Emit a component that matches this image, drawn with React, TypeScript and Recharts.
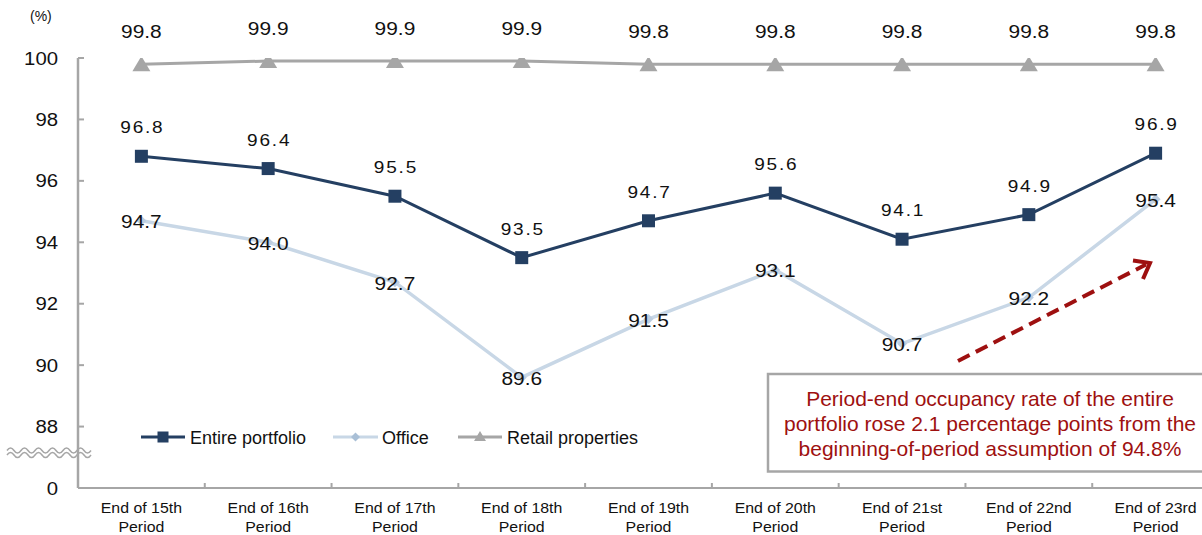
import { LabelList, Line, LineChart, XAxis, YAxis } from "recharts";

const periods = [
  "End of 15th Period",
  "End of 16th Period",
  "End of 17th Period",
  "End of 18th Period",
  "End of 19th Period",
  "End of 20th Period",
  "End of 21st Period",
  "End of 22nd Period",
  "End of 23rd Period"
];
const entire = [96.8, 96.4, 95.5, 93.5, 94.7, 95.6, 94.1, 94.9, 96.9];
const office = [94.7, 94.0, 92.7, 89.6, 91.5, 93.1, 90.7, 92.2, 95.4];
const retail = [99.8, 99.9, 99.9, 99.9, 99.8, 99.8, 99.8, 99.8, 99.8];
// 86 sits under the axis break and is labelled as 0
const yTicks = [86, 88, 90, 92, 94, 96, 98, 100];

const data = periods.map((period, i) => ({
  period,
  entire: entire[i],
  office: office[i],
  retail: retail[i]
}));

const NAVY = "#243f62";
const LIGHT = "#c8d7e6";
const GREY = "#a6a6a6";
const RED = "#9e1010";
const FONT = "'Liberation Sans', Arial, sans-serif";

// numbers in the plot use a slightly wide face
function WideText({ x, y, size, sx = 1.13, spacing = 0, anchor = "middle", children }: any) {
  return (
    <text
      transform={`translate(${x},${y}) scale(${sx},1)`}
      textAnchor={anchor}
      fontSize={size}
      letterSpacing={spacing}
      fill="#111"
      fontFamily={FONT}
    >
      {children}
    </text>
  );
}

function YTick({ x, y, payload }: any) {
  const v = payload.value;
  return (
    <g>
      {v !== 86 && <line x1={x + 20} x2={x + 26} y1={y} y2={y} stroke={GREY} strokeWidth={2} />}
      <WideText x={x} y={y + 6.5} size={18} anchor="end">
        {v === 86 ? "0" : v}
      </WideText>
    </g>
  );
}

function XTick({ x, y, payload }: any) {
  const [first] = String(payload.value).split(" Period");
  const left = x - (payload.offset ?? 0);
  return (
    <g>
      <line x1={left} x2={left} y1={y} y2={y - 5} stroke={GREY} strokeWidth={2} />
      <WideText x={x} y={y + 25} size={15} sx={1.06}>
        {first}
      </WideText>
      <WideText x={x} y={y + 43.5} size={15} sx={1.06}>
        Period
      </WideText>
    </g>
  );
}

function SquareDot({ cx, cy, index }: any) {
  return <rect key={`sq-${index}`} x={cx - 6.5} y={cy - 6.5} width={13} height={13} fill={NAVY} />;
}

function DiamondDot({ cx, cy, index }: any) {
  return (
    <path key={`dm-${index}`} d={`M${cx},${cy - 5}L${cx + 5},${cy}L${cx},${cy + 5}L${cx - 5},${cy}Z`} fill="#bccde0" />
  );
}

function TriangleDot({ cx, cy, index }: any) {
  return (
    <path key={`tr-${index}`} d={`M${cx},${cy - 8}L${cx + 9},${cy + 7}L${cx - 9},${cy + 7}Z`} fill={GREY} />
  );
}

function EntireLabel({ x, y, value }: any) {
  return (
    <WideText x={x + 1} y={y - 23} size={17} sx={1.12} spacing={1.6}>
      {Number(value).toFixed(1)}
    </WideText>
  );
}

function OfficeLabel({ x, y, value }: any) {
  return (
    <WideText x={x} y={y + 7.5} size={18.5}>
      {Number(value).toFixed(1)}
    </WideText>
  );
}

function RetailLabel({ x, y, value }: any) {
  return (
    <WideText x={x} y={y - 26} size={18.5}>
      {Number(value).toFixed(1)}
    </WideText>
  );
}

// double wavy line marking the broken value axis
function wave(y0: number) {
  let d = `M7,${y0}`;
  for (let x = 7; x < 90; x += 7) {
    const up = ((x - 7) / 7) % 2 === 0 ? -5 : 5;
    d += ` Q${x + 3.5},${y0 + up} ${x + 7},${y0}`;
  }
  return d;
}

function Overlay() {
  return (
    <svg width={1219} height={535} style={{ position: "absolute", left: 0, top: 0, pointerEvents: "none" }}>
      <text x={30} y={21} fontSize={14} fill="#111" fontFamily={FONT}>(%)</text>

      <path d={wave(450.5)} fill="none" stroke={GREY} strokeWidth={1.5} />
      <path d={wave(455)} fill="none" stroke={GREY} strokeWidth={1.5} />

      {/* legend */}
      <g fontFamily={FONT} fontSize={18} fill="#111">
        <line x1={141} x2={185} y1={437} y2={437} stroke={NAVY} strokeWidth={3} />
        <rect x={157.5} y={431.5} width={11} height={11} fill={NAVY} />
        <text x={190} y={443.5}>Entire portfolio</text>
        <line x1={333} x2={378} y1={437} y2={437} stroke={LIGHT} strokeWidth={3} />
        <path d="M355.5,432.5L360,437L355.5,441.5L351,437Z" fill="#a9bfd6" />
        <text x={382} y={443.5}>Office</text>
        <line x1={458} x2={502} y1={437} y2={437} stroke={GREY} strokeWidth={3} />
        <path d="M480,431L486,441L474,441Z" fill={GREY} />
        <text x={507} y={443.5}>Retail properties</text>
      </g>

      {/* dashed trend arrow */}
      <line x1={958} y1={361} x2={1146} y2={264.5} stroke={RED} strokeWidth={4} strokeDasharray="13 7" />
      <polyline points="1133,260.5 1150,263 1143,279" fill="none" stroke={RED} strokeWidth={4} />

      {/* annotation box */}
      <rect x={768} y={374} width={446} height={97.5} fill="#fff" stroke={GREY} strokeWidth={2.5} />
      <g fontFamily={FONT} fontSize={21} fill={RED} textAnchor="middle">
        <text x={990} y={405.5}>Period-end occupancy rate of the entire</text>
        <text x={990} y={430.5}>portfolio rose 2.1 percentage points from the</text>
        <text x={990} y={455.5}>beginning-of-period assumption of 94.8%</text>
      </g>
    </svg>
  );
}

export default function App() {
  return (
    <div
      style={{
        position: "absolute",
        left: 0,
        top: 0,
        width: 1202,
        height: 535,
        overflow: "hidden",
        background: "#fff"
      }}
    >
      <div style={{ position: "relative", width: 1219, height: 535 }}>
        <LineChart width={1219} height={535} data={data} margin={{ top: 58, right: 0, bottom: 0, left: 0 }}>
          <XAxis
            dataKey="period"
            scale="band"
            height={47}
            interval={0}
            tickSize={0}
            tickMargin={0}
            tick={<XTick />}
            axisLine={{ stroke: GREY, strokeWidth: 2 }}
          />
          <YAxis
            type="number"
            width={78}
            domain={[86, 100]}
            ticks={yTicks}
            interval={0}
            allowDataOverflow
            tickSize={0}
            tickMargin={20}
            tick={<YTick />}
            axisLine={{ stroke: GREY, strokeWidth: 2.5 }}
          />
          <Line
            dataKey="office"
            stroke={LIGHT}
            strokeWidth={3.5}
            dot={DiamondDot}
            activeDot={false}
            isAnimationActive={false}
          >
            <LabelList dataKey="office" content={OfficeLabel} />
          </Line>
          <Line
            dataKey="entire"
            stroke={NAVY}
            strokeWidth={3}
            dot={SquareDot}
            activeDot={false}
            isAnimationActive={false}
          >
            <LabelList dataKey="entire" content={EntireLabel} />
          </Line>
          <Line
            dataKey="retail"
            stroke={GREY}
            strokeWidth={3}
            dot={TriangleDot}
            activeDot={false}
            isAnimationActive={false}
          >
            <LabelList dataKey="retail" content={RetailLabel} />
          </Line>
        </LineChart>
        <Overlay />
      </div>
    </div>
  );
}
